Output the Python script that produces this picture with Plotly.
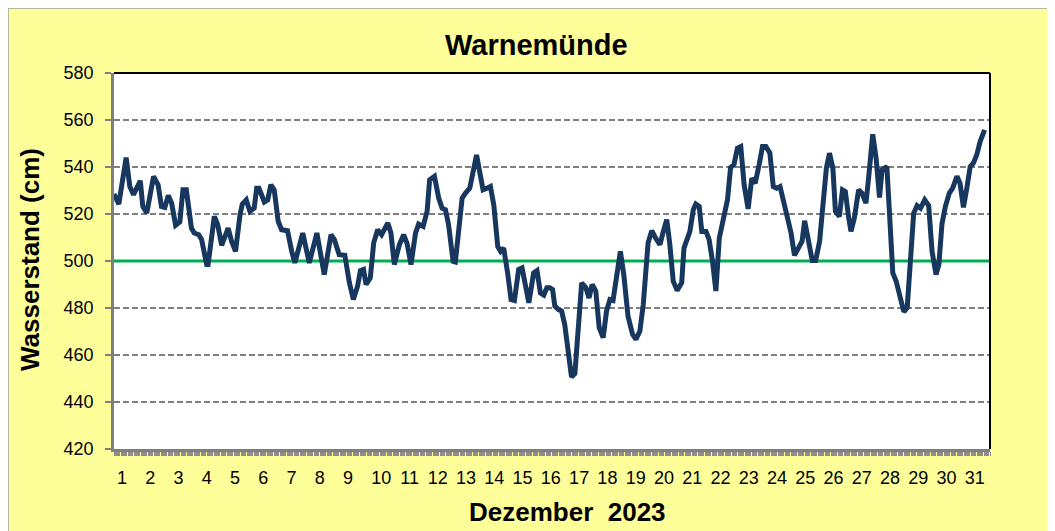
import plotly.graph_objects as go

# ---------------- data ----------------
# time in days since 1 Dec 2023 00:00, water level in cm
t_days = [
    0.00, 0.17, 0.43, 0.56, 0.69, 0.93, 1.02, 1.16, 1.40, 1.56, 1.68, 1.80, 1.92, 2.04,
    2.18, 2.33, 2.44, 2.56, 2.74, 2.84, 3.00, 3.10, 3.28, 3.33, 3.55, 3.67, 3.81, 4.04,
    4.16, 4.30, 4.46, 4.54, 4.68, 4.81, 4.96, 5.05, 5.13, 5.32, 5.44, 5.55, 5.67, 5.81,
    5.93, 6.14, 6.29, 6.40, 6.68, 6.91, 7.18, 7.44, 7.68, 7.80, 7.97, 8.17, 8.33, 8.47,
    8.62, 8.72, 8.83, 8.92, 9.07, 9.19, 9.33, 9.47, 9.69, 9.80, 9.92, 10.10, 10.25, 10.37,
    10.51, 10.67, 10.78, 10.94, 11.08, 11.17, 11.34, 11.49, 11.61, 11.73, 11.84, 12.00,
    12.08, 12.23, 12.32, 12.44, 12.59, 12.83, 13.06, 13.20, 13.32, 13.44, 13.58, 13.68,
    13.79, 13.93, 14.05, 14.17, 14.32, 14.44, 14.68, 14.85, 14.97, 15.09, 15.21, 15.32,
    15.42, 15.52, 15.60, 15.72, 15.84, 15.95, 16.07, 16.19, 16.31, 16.43, 16.55, 16.70,
    16.81, 16.92, 17.05, 17.17, 17.31, 17.43, 17.55, 17.66, 17.78, 17.92, 18.04, 18.19,
    18.35, 18.47, 18.61, 18.73, 18.90, 19.03, 19.18, 19.32, 19.44, 19.56, 19.67, 19.79,
    19.93, 20.09, 20.17, 20.28, 20.38, 20.50, 20.59, 20.71, 20.80, 20.95, 21.06, 21.18,
    21.30, 21.42, 21.59, 21.71, 21.82, 21.94, 22.06, 22.18, 22.30, 22.44, 22.57, 22.69,
    22.83, 22.95, 23.07, 23.21, 23.33, 23.45, 23.57, 23.68, 23.84, 23.96, 24.08, 24.26,
    24.35, 24.44, 24.59, 24.71, 24.83, 24.97, 25.09, 25.21, 25.32, 25.44, 25.53, 25.67,
    25.78, 25.88, 26.00, 26.08, 26.20, 26.35, 26.47, 26.61, 26.71, 26.85, 26.97, 27.09,
    27.18, 27.35, 27.44, 27.56, 27.68, 27.80, 27.95, 28.07, 28.18, 28.30, 28.42, 28.54,
    28.69, 28.83, 28.95, 29.09, 29.19, 29.30, 29.42, 29.56, 29.68, 29.83, 29.94, 30.06,
    30.18, 30.30, 30.41, 30.53, 30.65, 30.81,
]
wasserstand_cm = [
    528.5, 524.2, 544.0, 531.7, 528.2, 534.1, 523.2, 520.4, 536.0, 532.4, 523.2, 522.8, 527.9, 524.6,
    515.2, 516.6, 530.3, 530.3, 514.0, 511.9, 511.2, 509.1, 498.5, 498.5, 519.0, 515.4, 506.7, 514.0,
    508.4, 504.1, 519.7, 524.2, 526.0, 521.1, 522.5, 531.0, 531.0, 525.1, 526.0, 532.4, 530.3, 516.9,
    513.3, 512.9, 504.1, 499.2, 511.9, 499.2, 511.9, 494.2, 511.2, 509.1, 502.7, 502.4, 490.7, 483.6,
    489.3, 495.9, 496.4, 490.0, 492.8, 507.7, 513.3, 511.2, 516.2, 511.9, 498.5, 507.0, 511.2, 507.5,
    498.5, 511.9, 515.7, 514.7, 521.1, 534.5, 536.0, 526.8, 522.5, 521.8, 515.4, 499.9,
    499.6, 518.3, 526.8, 528.9, 531.0, 545.1, 530.3, 531.0, 531.7, 523.9, 506.2, 504.1,
    505.5, 494.9, 483.6, 483.2, 496.4, 497.1, 482.2, 494.9, 495.9, 486.4, 485.5, 488.6,
    488.6, 487.9, 480.8, 479.4, 478.7, 473.0, 461.7, 450.7, 452.1, 470.2, 490.7, 488.6,
    484.3, 490.0, 487.2, 471.6, 467.4, 478.7, 483.6, 483.2, 492.8, 504.1, 494.2, 476.5,
    468.8, 466.6, 470.2, 481.5, 507.7, 512.9, 509.5, 507.0, 512.6, 517.6, 507.0, 491.4,
    487.4, 490.7, 505.5, 508.7, 512.6, 521.8, 524.2, 523.2, 512.6, 512.6, 509.1, 499.9,
    487.2, 509.8, 519.7, 526.0, 539.8, 541.0, 548.0, 548.7, 532.4, 522.2, 535.2, 533.1,
    541.0, 548.7, 548.7, 545.9, 531.7, 531.0, 531.7, 526.0, 516.9, 511.9, 502.4, 506.3,
    508.4, 517.1, 506.3, 500.2, 500.2, 508.4, 523.9, 539.5, 545.9, 539.5, 521.1, 519.0,
    530.3, 529.6, 518.3, 512.6, 518.3, 530.3, 528.9, 524.6, 536.0, 553.9, 543.7, 527.0,
    538.8, 540.2, 521.1, 494.9, 491.4, 485.0, 478.4, 480.1, 501.3, 520.4, 523.6, 522.5,
    526.0, 523.6, 504.1, 494.2, 498.5, 515.7, 523.2, 528.9, 531.0, 536.0, 533.1, 522.8,
    531.0, 540.2, 541.6, 545.1, 550.8, 555.8,
]
days = list(range(1, 32))
day_labels = [str(d) for d in days]
mittelwasser_cm = 500
y_ticks = [420, 440, 460, 480, 500, 520, 540, 560, 580]

title_text = "Warnemünde"
y_title = "Wasserstand (cm)"
x_title = "Dezember\u00a0\u00a02023"

# ---------------- layout geometry (page pixels) ----------------
W, H = 1055, 531
OFF = 8                      # default page margin around the figure
PL, PT, PW, PH = 114, 73, 876, 376   # plot area on the page
L, T = PL - OFF, PT - OFF
R, B = W - L - PW, H - T - PH


def px_x(px):
    return (px - PL) / PW


def px_y(py):
    return (PT + PH - py) / PH


day_px = PW / 31.0
tick_pos = [d - 1 + (3 + 5 * len(s)) / day_px for d, s in zip(days, day_labels)]

FONT = "Liberation Sans, Arial, sans-serif"
NAVY = "#17375E"
GREEN = "#00B050"
GRID = "#808080"

fig = go.Figure()

fig.add_trace(go.Scatter(
    x=[0, 31], y=[mittelwasser_cm, mittelwasser_cm], mode="lines",
    line=dict(color=GREEN, width=3), hoverinfo="skip", showlegend=False,
))
fig.add_trace(go.Scatter(
    x=t_days, y=wasserstand_cm, mode="lines",
    line=dict(color=NAVY, width=5), showlegend=False,
))

fig.update_layout(
    width=W, height=H,
    margin=dict(l=L, r=R, t=T, b=B, pad=0),
    paper_bgcolor="#FFFF99", plot_bgcolor="white",
    font=dict(family=FONT, color="black", size=18),
    shapes=[
        dict(type="rect", xref="paper", yref="paper", layer="below",
             x0=px_x(OFF), x1=px_x(W + OFF + 5), y0=px_y(H + OFF + 5), y1=px_y(OFF),
             fillcolor="#FFFF99", line=dict(color="#A0A0A0", width=1.5)),
        dict(type="rect", xref="paper", yref="paper", layer="below",
             x0=0, x1=1, y0=0, y1=1, fillcolor="white", line=dict(width=0)),
        # top and right plot-area border (black)
        dict(type="line", xref="paper", yref="paper", layer="above",
             x0=0, x1=1, y0=1, y1=1, line=dict(color="black", width=2)),
        dict(type="line", xref="paper", yref="paper", layer="above",
             x0=1, x1=1, y0=0, y1=1, line=dict(color="black", width=2)),
    ],
    annotations=[
        dict(text="<b>%s</b>" % title_text, xref="paper", yref="paper",
             x=px_x(536), y=px_y(45), xanchor="center", yanchor="middle",
             showarrow=False, font=dict(size=29, family=FONT)),
        dict(text="<b>%s</b>" % y_title, xref="paper", yref="paper",
             x=px_x(30), y=px_y(260), xanchor="center", yanchor="middle",
             textangle=-90, showarrow=False, font=dict(size=26, family=FONT)),
        dict(text="<b>%s</b>" % x_title, xref="paper", yref="paper",
             x=px_x(567), y=px_y(512), xanchor="center", yanchor="middle",
             showarrow=False, font=dict(size=26, family=FONT)),
    ],
)

fig.update_xaxes(
    range=[0, 31], showgrid=False, zeroline=False,
    tickmode="array", tickvals=tick_pos, ticktext=day_labels,
    ticks="", ticklabelstandoff=11,
    tickfont=dict(size=18),
    showline=True, linecolor=GRID, linewidth=2.5,
    minor=dict(ticks="outside", tick0=0, dtick=1 / 24, ticklen=4,
               tickcolor="#8C8C8C", tickwidth=1, showgrid=False),
)
fig.update_yaxes(
    range=[420, 580], tickmode="array", tickvals=y_ticks,
    showgrid=True, gridcolor=GRID, gridwidth=1.5, griddash="6px,3px",
    zeroline=False, ticks="outside", ticklen=6, tickcolor=GRID, tickwidth=1.5,
    ticklabelstandoff=8, tickfont=dict(size=18),
    showline=True, linecolor=GRID, linewidth=2.5,
)

fig.write_html("out.html")
